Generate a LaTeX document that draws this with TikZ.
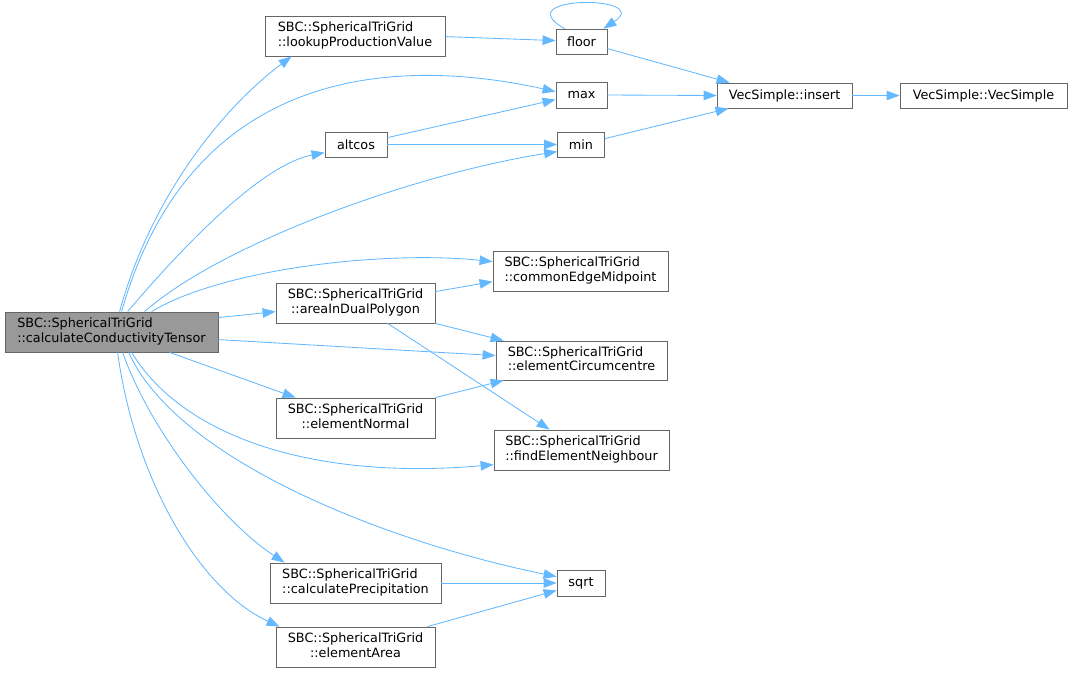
\documentclass[tikz,border=0pt]{standalone}
\usepackage{fontspec}
\setmainfont{DejaVu Sans}
\usetikzlibrary{arrows.meta}
\definecolor{edgec}{HTML}{63B8FF}
\definecolor{boxc}{HTML}{666666}
\definecolor{mainf}{HTML}{999999}
\newcommand\twol[2]{\begin{tabular}{@{}c@{}}#1\hfill\mbox{}\\#2\end{tabular}}
\begin{document}
\begin{tikzpicture}[x=1pt,y=-1pt,
  fn/.style={draw=boxc, line width=0.8pt, fill=white, inner sep=0pt,
    font=\fontsize{12.8}{14.7}\selectfont, align=center},
  e/.style={draw=edgec, line width=0.85pt, -{Triangle[length=13pt,width=9.5pt]}}]
\useasboundingbox (0,0) rectangle (1072,673);
% nodes
\node[fn, fill=mainf, minimum width=213pt, minimum height=40pt] (main) at (111.5,332) {\twol{SBC::SphericalTriGrid}{::calculateConductivityTensor}};
\node[fn, minimum width=180pt, minimum height=40pt] (lookup) at (355,36) {\twol{SBC::SphericalTriGrid}{::lookupProductionValue}};
\node[fn, minimum width=51pt, minimum height=25pt] (floor) at (581.5,41.5) {floor};
\node[fn, minimum width=51pt, minimum height=26pt] (max) at (581.5,95) {max};
\node[fn, minimum width=62pt, minimum height=25pt] (altcos) at (356,144.5) {altcos};
\node[fn, minimum width=47pt, minimum height=25pt] (min) at (581,144.5) {min};
\node[fn, minimum width=135pt, minimum height=25pt] (insert) at (784.5,95.5) {VecSimple::insert};
\node[fn, minimum width=167pt, minimum height=25pt] (vecs) at (983.5,95.5) {VecSimple::VecSimple};
\node[fn, minimum width=175pt, minimum height=40pt] (cem) at (580.5,271) {\twol{SBC::SphericalTriGrid}{::commonEdgeMidpoint}};
\node[fn, minimum width=159pt, minimum height=40pt] (area) at (355.5,303) {\twol{SBC::SphericalTriGrid}{::areaInDualPolygon}};
\node[fn, minimum width=171pt, minimum height=39pt] (circ) at (581.5,360.5) {\twol{SBC::SphericalTriGrid}{::elementCircumcentre}};
\node[fn, minimum width=159pt, minimum height=40pt] (enorm) at (355.5,418) {\twol{SBC::SphericalTriGrid}{::elementNormal}};
\node[fn, minimum width=175pt, minimum height=40pt] (fen) at (581.5,450) {\twol{SBC::SphericalTriGrid}{::findElementNeighbour}};
\node[fn, minimum width=48pt, minimum height=26pt] (sqrt) at (581,583) {sqrt};
\node[fn, minimum width=171pt, minimum height=40pt] (cprec) at (355.5,583) {\twol{SBC::SphericalTriGrid}{::calculatePrecipitation}};
\node[fn, minimum width=159pt, minimum height=40pt] (earea) at (355.5,647) {\twol{SBC::SphericalTriGrid}{::elementArea}};
% edges from main
\draw[e] ([shift={(115,0)}]main.north west) .. controls (150,200) and (220,110) .. ([shift={(27,0)}]lookup.south west);
\draw[e] ([shift={(117,0)}]main.north west) .. controls (190,70) and (390,55) .. ([shift={(0,10)}]max.north west);
\draw[e] ([shift={(123,0)}]main.north west) .. controls (180,250) and (260,165) .. ([shift={(0,21)}]altcos.north west);
\draw[e] ([shift={(140,0)}]main.north west) .. controls (220,245) and (410,175) .. ([shift={(0,20)}]min.north west);
\draw[e] ([shift={(147,0)}]main.north west) .. controls (220,270) and (380,250) .. ([shift={(0,11)}]cem.north west);
\draw[e] ([shift={(0,6)}]main.north east) -- ([shift={(0,29)}]area.north west);
\draw[e] ([shift={(0,28)}]main.north east) -- ([shift={(0,15)}]circ.north west);
\draw[e] ([shift={(165,0)}]main.south west) -- ([shift={(20,0)}]enorm.north west);
\draw[e] ([shift={(127,0)}]main.south west) .. controls (185,440) and (320,480) .. ([shift={(0,35)}]fen.north west);
\draw[e] ([shift={(124,0)}]main.south west) .. controls (180,465) and (400,545) .. ([shift={(0,7)}]sqrt.north west);
\draw[e] ([shift={(118,0)}]main.south west) .. controls (150,430) and (220,520) .. ([shift={(15,0)}]cprec.north west);
\draw[e] ([shift={(113,0)}]main.south west) .. controls (135,480) and (200,590) .. ([shift={(4,0)}]earea.north west);
% other edges
\draw[e] ([shift={(0,21)}]lookup.north east) -- ([shift={(0,12)}]floor.north west);
\draw[e] ([shift={(9,0)}]floor.north west) .. controls (505,-5) and (655,-5) .. ([shift={(-4,0)}]floor.north east);
\draw[e] ([shift={(0,20)}]floor.north east) -- ([shift={(13,0)}]insert.north west);
\draw[e] (max.east) -- (insert.west);
\draw[e] ([shift={(0,6)}]altcos.north east) -- ([shift={(0,18)}]max.north west);
\draw[e] (altcos.east) -- (min.west);
\draw[e] ([shift={(0,7)}]min.north east) -- ([shift={(12,0)}]insert.south west);
\draw[e] (insert.east) -- (vecs.west);
\draw[e] ([shift={(0,9)}]area.north east) -- ([shift={(0,31)}]cem.north west);
\draw[e] (area.south east) -- ([shift={(8,0)}]circ.north west);
\draw[e] ([shift={(112,0)}]area.south west) -- ([shift={(56,0)}]fen.north west);
\draw[e] (enorm.north east) -- ([shift={(8,0)}]circ.south west);
\draw[e] (cprec.east) -- (sqrt.west);
\draw[e] ([shift={(-8,0)}]earea.north east) -- ([shift={(0,-6)}]sqrt.south west);
\end{tikzpicture}
\end{document}
